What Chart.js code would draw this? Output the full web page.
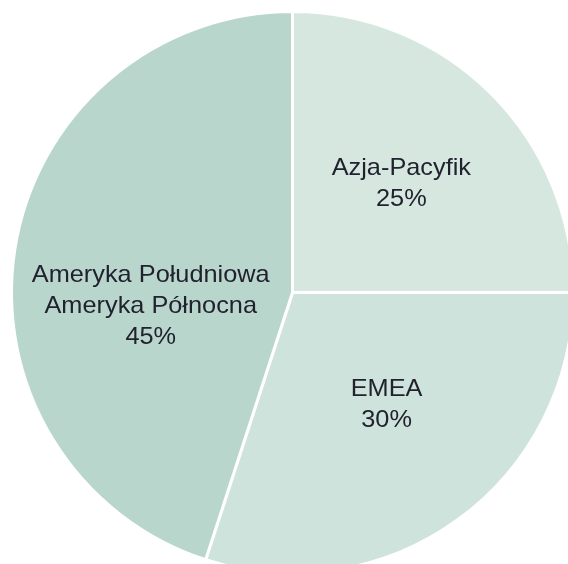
<!DOCTYPE html>
<html>
<head>
<meta charset="utf-8">
<script src="https://cdn.jsdelivr.net/npm/chart.js@4/dist/chart.umd.min.js"></script>
<style>
  html, body { margin: 0; padding: 0; background: #ffffff; overflow: hidden; width: 568px; height: 564px; }
  #wrap { position: absolute; left: 0; top: 0; width: 585px; height: 585px; }
</style>
</head>
<body>
<div id="wrap"><canvas id="c"></canvas></div>
<script>
// ---- data ----
const categories = [['Azja-Pacyfik'], ['EMEA'], ['Ameryka Południowa', 'Ameryka Północna']];
const shares = [25, 30, 45];
const sliceColors = ['#d6e7e0', '#cee3db', '#b9d6cd'];
// label placement nudges (px) relative to the slice's mid-radius point
const labelNudges = [[9.5, -11], [11.5, -3.5], [-3, 34]];

const FONT = '24px "Liberation Sans", Arial, sans-serif';
const X_STRETCH = 1.055;
const LINE_H = 31;
const CAP_H = 17;

const labelPlugin = {
  id: 'sliceLabels',
  afterDatasetsDraw(chart) {
    const ctx = chart.ctx;
    const meta = chart.getDatasetMeta(0);
    const total = shares.reduce((a, b) => a + b, 0);
    ctx.save();
    ctx.font = FONT;
    ctx.fillStyle = '#22222f';
    ctx.textAlign = 'center';
    ctx.textBaseline = 'alphabetic';
    meta.data.forEach((arc, i) => {
      const p = arc.tooltipPosition();
      const cx = p.x + labelNudges[i][0];
      const cy = p.y + labelNudges[i][1];
      const lines = categories[i].concat([Math.round(shares[i] / total * 100) + '%']);
      const n = lines.length;
      const firstBase = cy - (n - 1) * LINE_H / 2 + CAP_H / 2;
      lines.forEach((t, k) => {
        ctx.save();
        ctx.translate(cx, firstBase + k * LINE_H);
        ctx.scale(X_STRETCH, 1);
        ctx.fillText(t, 0, 0);
        ctx.restore();
      });
    });
    ctx.restore();
  }
};

new Chart(document.getElementById('c'), {
  type: 'pie',
  data: {
    labels: categories,
    datasets: [{
      data: shares,
      backgroundColor: sliceColors,
      borderColor: '#ffffff',
      borderWidth: 3,
      radius: 281
    }]
  },
  options: {
    responsive: true,
    maintainAspectRatio: false,
    animation: false,
    layout: { padding: 0 },
    plugins: { legend: { display: false }, tooltip: { enabled: false } }
  },
  plugins: [labelPlugin]
});
</script>
</body>
</html>
